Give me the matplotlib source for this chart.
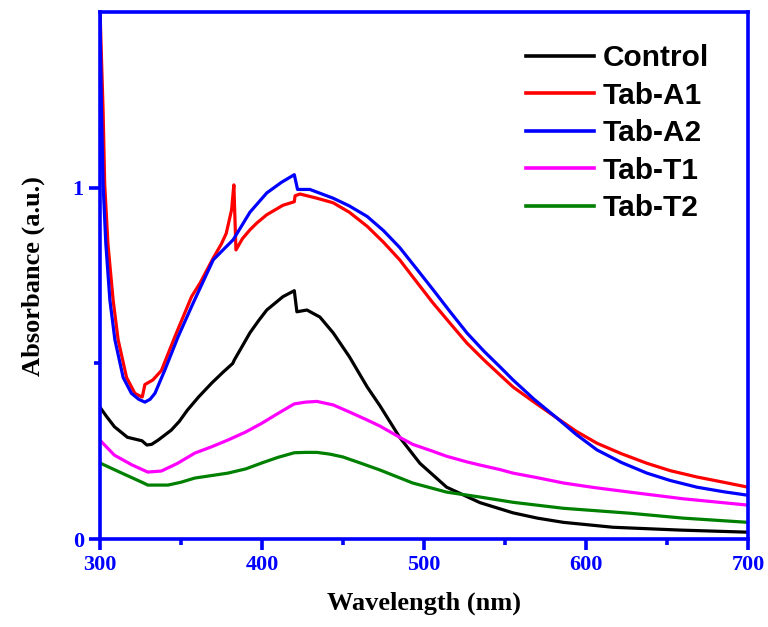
import numpy as np
import matplotlib.pyplot as plt

# wavelength (nm) / absorbance (a.u.)
wl_ctrl = [300, 304, 309, 317, 326, 329, 332, 336, 344, 349, 354, 361, 369, 376, 382, 383,
           388, 392.6, 398, 403, 413, 420, 421.6, 427.8, 435.8, 444, 454, 465, 472.8, 485,
           497.5, 514, 534.6, 555, 570, 586, 616.7, 658, 700]
ab_ctrl = [0.376, 0.35, 0.32, 0.29, 0.28, 0.268, 0.27, 0.282, 0.31, 0.335, 0.367, 0.405,
           0.444, 0.475, 0.50, 0.51, 0.55, 0.587, 0.622, 0.652, 0.69, 0.707, 0.647, 0.652,
           0.632, 0.587, 0.519, 0.433, 0.38, 0.29, 0.216, 0.148, 0.104, 0.075, 0.06, 0.048,
           0.034, 0.026, 0.02]

wl_a1 = [300, 302, 303, 305, 308.2, 311.3, 316.5, 321.6, 325.7, 326.2, 327.8, 332.7, 338,
         346.3, 356.6, 362, 370, 375, 378, 381.3, 382.7, 384, 388, 392.6, 397, 403, 413,
         420, 420.5, 423.5, 434, 444, 454, 465, 475, 485, 495, 505.6, 516, 526.5, 537,
         547, 555, 568, 582, 594, 606.8, 622, 637.6, 652, 668.5, 685, 700]
ab_a1 = [1.52, 1.22, 1.01, 0.84, 0.68, 0.567, 0.46, 0.415, 0.405, 0.405, 0.44, 0.453, 0.48,
         0.576, 0.69, 0.73, 0.80, 0.84, 0.87, 0.937, 1.008, 0.823, 0.855, 0.88, 0.90, 0.923,
         0.95, 0.96, 0.977, 0.982, 0.97, 0.957, 0.93, 0.89, 0.845, 0.795, 0.735, 0.672,
         0.615, 0.558, 0.51, 0.467, 0.433, 0.39, 0.345, 0.307, 0.273, 0.243, 0.216, 0.195,
         0.177, 0.162, 0.148]

wl_a2 = [300, 301, 302, 303.7, 306.2, 309.3, 314.4, 319.5, 324, 327.8, 331, 334, 340,
         348.3, 357.6, 370, 382.3, 392.6, 403, 412, 420, 422, 429.6, 444, 454, 465, 475,
         485, 495, 505.6, 516, 526.5, 537, 547, 555, 568, 582, 594, 606.8, 622, 637.6, 652,
         668.5, 685, 700]
ab_a2 = [1.52, 1.22, 1.01, 0.84, 0.68, 0.567, 0.46, 0.415, 0.398, 0.39, 0.398, 0.415, 0.48,
         0.576, 0.672, 0.795, 0.852, 0.93, 0.985, 1.015, 1.037, 0.995, 0.995, 0.97, 0.948,
         0.918, 0.878, 0.83, 0.772, 0.71, 0.648, 0.587, 0.535, 0.49, 0.453, 0.398, 0.345,
         0.298, 0.254, 0.218, 0.188, 0.167, 0.148, 0.135, 0.125]

wl_t1 = [300, 309, 320, 329.6, 338, 348, 358.6, 369, 379, 390, 400, 410, 420, 427, 434,
         444, 454, 465, 472.8, 485, 493, 505.6, 514, 526.5, 534.6, 547, 555, 570, 586, 605,
         627, 660, 700]
ab_t1 = [0.282, 0.239, 0.211, 0.191, 0.194, 0.216, 0.245, 0.263, 0.282, 0.305, 0.33, 0.358,
         0.385, 0.39, 0.392, 0.382, 0.362, 0.339, 0.322, 0.29, 0.27, 0.25, 0.236, 0.22,
         0.211, 0.198, 0.188, 0.175, 0.16, 0.147, 0.134, 0.115, 0.097]

wl_t2 = [300, 313.6, 326, 329.6, 342, 350, 358.6, 379, 390, 400, 410, 420, 427, 434, 442,
         450, 460, 472.8, 493, 514, 534.6, 555, 586, 627, 660, 700]
ab_t2 = [0.217, 0.188, 0.162, 0.154, 0.154, 0.162, 0.174, 0.188, 0.20, 0.217, 0.233, 0.246,
         0.247, 0.247, 0.242, 0.234, 0.218, 0.197, 0.16, 0.134, 0.12, 0.105, 0.088, 0.074,
         0.06, 0.048]

labels = ["Control", "Tab-A1", "Tab-A2", "Tab-T1", "Tab-T2"]
colors = ["black", "red", "blue", "magenta", "green"]

blue = "#0000ff"
serif = ["Liberation Serif", "DejaVu Serif"]

fig = plt.figure(figsize=(7.68, 6.27), dpi=100)
ax = fig.add_axes([0.130, 0.140, 0.844, 0.841])

series = [(wl_ctrl, ab_ctrl), (wl_a1, ab_a1), (wl_a2, ab_a2), (wl_t1, ab_t1), (wl_t2, ab_t2)]
for (x, y), lab, c in zip(series, labels, colors):
    ax.plot(x, y, color=c, lw=2.3, label=lab, solid_joinstyle="round")

ax.set_xlim(300, 700)
ax.set_ylim(0, 1.5)
ax.set_xticks([300, 400, 500, 600, 700])
ax.set_xticks([350, 450, 550, 650], minor=True)
ax.set_yticks([0, 1])
ax.set_yticks([0.5], minor=True)

for s in ax.spines.values():
    s.set_color(blue)
    s.set_linewidth(2.6)

ax.tick_params(which="both", direction="out", color=blue, width=2.6,
               top=False, right=False, labelcolor=blue)
ax.tick_params(which="major", length=8)
ax.tick_params(which="minor", length=4)
for t in ax.get_xticklabels() + ax.get_yticklabels():
    t.set_family(serif)
    t.set_fontweight("bold")
    t.set_fontsize(16)

ax.set_xlabel("Wavelength (nm)", family=serif, fontweight="bold", fontsize=19, labelpad=12)
ax.set_ylabel("Absorbance (a.u.)", family=serif, fontweight="bold", fontsize=19, labelpad=20)

leg = ax.legend(loc="upper right", bbox_to_anchor=(0.981, 0.99), frameon=False,
                handlelength=2.25, handletextpad=0.3, labelspacing=0.32,
                prop={"family": ["Liberation Sans", "DejaVu Sans"], "weight": "bold", "size": 21.5})
for l in leg.get_lines():
    l.set_linewidth(2.6)

fig.savefig("out.png", dpi=100)
